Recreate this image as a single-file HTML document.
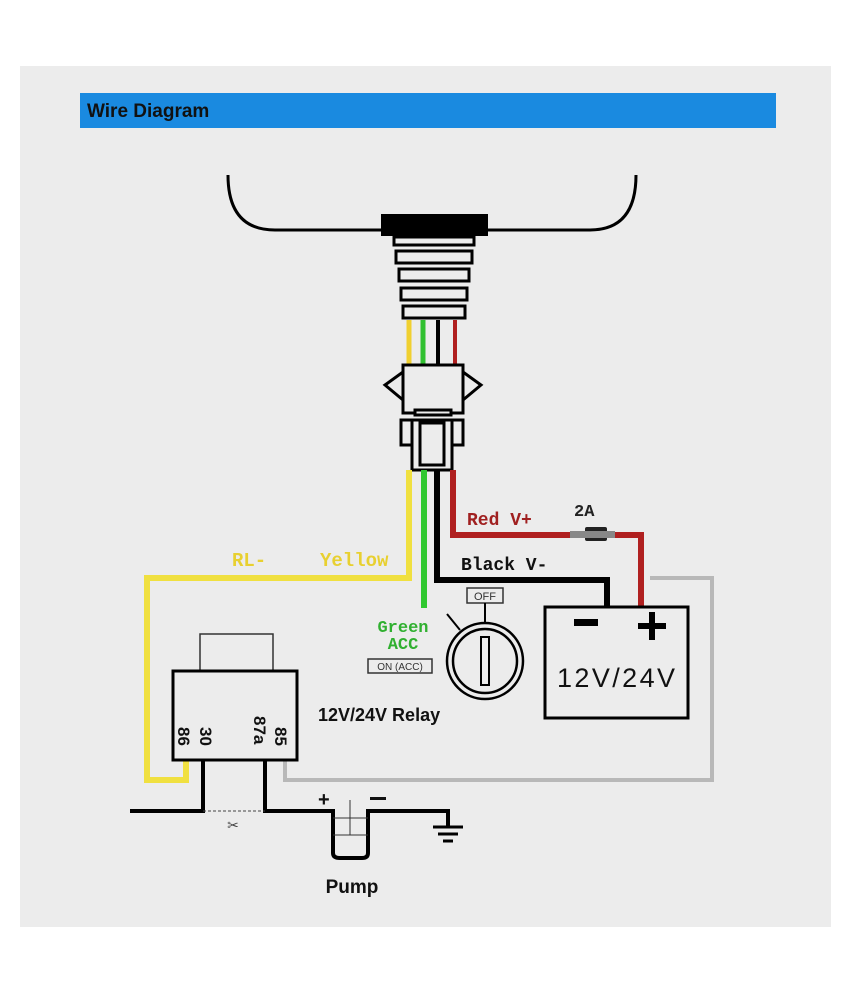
<!DOCTYPE html>
<html><head><style>body{margin:0;background:#fff}svg{display:block}</style></head><body>
<svg width="850" height="995" viewBox="0 0 850 995" xmlns="http://www.w3.org/2000/svg" font-family="Liberation Sans, sans-serif">
<rect x="20" y="66" width="811" height="861" fill="#ececec"/>
<rect x="80" y="93" width="696" height="35" fill="#1a8ae0"/>
<text x="87" y="117" font-size="19" font-weight="bold" fill="#111">Wire Diagram</text>
<path d="M228 175 Q228 230 275 230 L590 230 Q636 230 636 175" fill="none" stroke="#000" stroke-width="3"/>
<rect x="381" y="214" width="107" height="22" fill="#000"/>
<g fill="#ececec" stroke="#000" stroke-width="3">
<rect x="394" y="237" width="80" height="8"/>
<rect x="396" y="251" width="76" height="12"/>
<rect x="399" y="269" width="70" height="12"/>
<rect x="401" y="288" width="66" height="12"/>
<rect x="403" y="306" width="62" height="12"/>
</g>
<line x1="409" y1="320" x2="409" y2="365" stroke="#f0d030" stroke-width="5"/>
<line x1="423" y1="320" x2="423" y2="365" stroke="#30c030" stroke-width="5"/>
<line x1="438" y1="320" x2="438" y2="365" stroke="#000" stroke-width="4"/>
<line x1="455" y1="320" x2="455" y2="365" stroke="#b02020" stroke-width="4"/>
<g fill="#ececec" stroke="#000" stroke-width="3">
<rect x="403" y="365" width="60" height="48"/>
<path d="M403 372 L385 385 L403 400" fill="none"/>
<path d="M463 372 L481 385 L463 400" fill="none"/>
<rect x="415" y="410" width="36" height="5"/>
<rect x="401" y="420" width="62" height="25"/>
<rect x="412" y="420" width="40" height="50"/>
<rect x="420" y="423" width="24" height="42"/>
</g>
<g fill="none" stroke-linejoin="miter">
<path d="M409 470 L409 578 L147 578 L147 780 L186 780 L186 760" stroke="#f0e040" stroke-width="6"/>
<path d="M424 470 L424 608" stroke="#30c830" stroke-width="6"/>
<path d="M437 470 L437 580 L607 580 L607 608" stroke="#000" stroke-width="6"/>
<path d="M453 470 L453 535 L641 535 L641 608" stroke="#b02020" stroke-width="6"/>
<path d="M650 578 L712 578 L712 780 L285 780 L285 760" stroke="#b8b8b8" stroke-width="4"/>
</g>
<rect x="585" y="527" width="22" height="14" fill="#222" rx="2"/>
<rect x="570" y="531" width="45" height="7" fill="#888"/>
<text x="574" y="516" font-size="17" font-family="Liberation Mono, monospace" font-weight="bold" fill="#222">2A</text>
<text x="467" y="525" font-size="18" font-family="Liberation Mono, monospace" font-weight="bold" fill="#a02020">Red V+</text>
<text x="461" y="570" font-size="18" font-family="Liberation Mono, monospace" font-weight="bold" fill="#111">Black V-</text>
<text x="232" y="566" font-size="19" font-family="Liberation Mono, monospace" font-weight="bold" fill="#e8d030">RL-</text>
<text x="320" y="566" font-size="19" font-family="Liberation Mono, monospace" font-weight="bold" fill="#e8d030">Yellow</text>
<text x="403" y="632" font-size="17" font-family="Liberation Mono, monospace" font-weight="bold" fill="#30b030" text-anchor="middle">Green</text>
<text x="403" y="649" font-size="17" font-family="Liberation Mono, monospace" font-weight="bold" fill="#30b030" text-anchor="middle">ACC</text>
<rect x="368" y="659" width="64" height="14" fill="#ececec" stroke="#333" stroke-width="1.5"/>
<text x="400" y="670" font-size="10" text-anchor="middle" fill="#333">ON (ACC)</text>
<rect x="467" y="588" width="36" height="15" fill="#ececec" stroke="#333" stroke-width="1.5"/>
<text x="485" y="600" font-size="11" text-anchor="middle" fill="#333">OFF</text>
<line x1="485" y1="603" x2="485" y2="625" stroke="#000" stroke-width="2"/>
<line x1="447" y1="614" x2="460" y2="630" stroke="#000" stroke-width="2"/>
<circle cx="485" cy="661" r="38" fill="#ececec" stroke="#000" stroke-width="2.5"/>
<circle cx="485" cy="661" r="32" fill="none" stroke="#000" stroke-width="2.5"/>
<rect x="481" y="637" width="8" height="48" fill="none" stroke="#000" stroke-width="2"/>
<rect x="545" y="607" width="143" height="111" fill="#ececec" stroke="#000" stroke-width="3"/>
<rect x="574" y="619" width="24" height="7" fill="#000"/>
<rect x="638" y="623" width="28" height="6" fill="#000"/>
<rect x="649" y="612" width="6" height="28" fill="#000"/>
<text x="616" y="687" font-size="27" text-anchor="middle" fill="#111" textLength="118">12V/24V</text>
<rect x="200" y="634" width="73" height="37" fill="#ececec" stroke="#333" stroke-width="1.5"/>
<rect x="173" y="671" width="124" height="89" fill="#ececec" stroke="#000" stroke-width="3"/>
<g font-size="17" font-weight="bold" fill="#111">
<text transform="translate(178,727) rotate(90)">86</text>
<text transform="translate(200,727) rotate(90)">30</text>
<text transform="translate(254,716) rotate(90)">87a</text>
<text transform="translate(275,727) rotate(90)">85</text>
</g>
<text x="318" y="721" font-size="18" font-weight="bold" fill="#111">12V/24V Relay</text>
<g fill="none" stroke="#000" stroke-width="4">
<path d="M130 811 L203 811 L203 760"/>
<path d="M265 760 L265 811 L333 811 L333 853 Q333 858 340 858 L362 858 Q368 858 368 853 L368 811 L448 811 L448 826"/>
</g>
<line x1="203" y1="811" x2="265" y2="811" stroke="#444" stroke-width="1" stroke-dasharray="3,2"/>
<text x="233" y="830" font-size="14" text-anchor="middle" fill="#444">✂</text>
<line x1="333" y1="835" x2="368" y2="835" stroke="#333" stroke-width="1"/>
<line x1="350" y1="800" x2="350" y2="835" stroke="#333" stroke-width="1"/>
<line x1="333" y1="818" x2="368" y2="818" stroke="#333" stroke-width="1"/>
<text x="318" y="806" font-size="20" font-weight="bold" fill="#111">+</text>
<rect x="370" y="797" width="16" height="3" fill="#111"/>
<line x1="433" y1="827" x2="463" y2="827" stroke="#000" stroke-width="3"/>
<line x1="438" y1="834" x2="458" y2="834" stroke="#000" stroke-width="3"/>
<line x1="443" y1="841" x2="453" y2="841" stroke="#000" stroke-width="3"/>
<text x="352" y="893" font-size="19" font-weight="bold" text-anchor="middle" fill="#111">Pump</text>
</svg>
</body></html>
